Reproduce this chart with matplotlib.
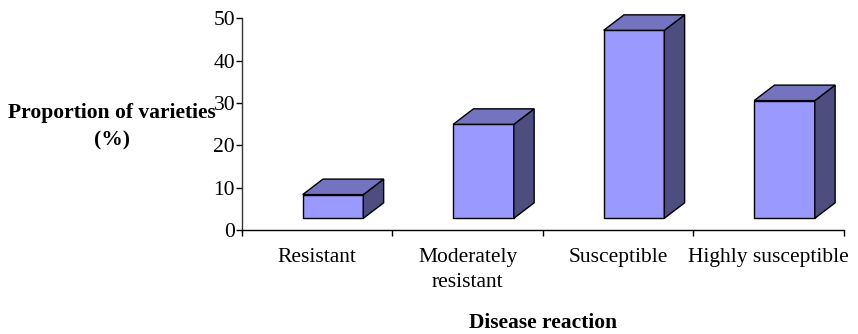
import matplotlib.pyplot as plt
from matplotlib.patches import Polygon
import numpy as np

#--------------- data -----------------#
categories = ['Resistant', 'Moderately\nresistant', 'Susceptible', 'Highly susceptible']
values = [5.6, 22.2, 44.4, 27.8]   # % of varieties
yticks = [0, 10, 20, 30, 40, 50]

#--------------- style -----------------#
plt.rcParams['font.family'] = ['Liberation Serif', 'DejaVu Serif']
front_col = '#9999FF'
top_col = '#7373BF'
side_col = '#4D4D80'
fs = 15.5

# fake 3D geometry (data units)
base = 2.76     # front face sits a bit above the floor
shift = 0.105   # front face offset from category centre
width = 0.403
dx = 0.135      # depth in x
dy = 3.66       # depth in y

fig = plt.figure(figsize=(8.58, 3.34), dpi=100)
ax = fig.add_axes([0.282, 0.3114, 0.7016, 0.6338])

x = np.arange(len(categories))
xl = x + shift - width / 2
xr = x + shift + width / 2
tops = base + np.array(values)

ax.bar(x + shift, values, width=width, bottom=base, color=front_col,
       edgecolor='black', linewidth=1, zorder=3)
for i in range(len(x)):
    top = Polygon([(xl[i], tops[i]), (xr[i], tops[i]), (xr[i] + dx, tops[i] + dy),
                   (xl[i] + dx, tops[i] + dy)], closed=True,
                  facecolor=top_col, edgecolor='black', linewidth=1, zorder=3,
                  clip_on=False)
    side = Polygon([(xr[i], base), (xr[i] + dx, base + dy), (xr[i] + dx, tops[i] + dy),
                    (xr[i], tops[i])], closed=True,
                   facecolor=side_col, edgecolor='black', linewidth=1, zorder=3,
                   clip_on=False)
    ax.add_patch(side)
    ax.add_patch(top)

ax.set_xlim(-0.5, len(categories) - 0.5)
ax.set_ylim(0, 50)
ax.set_yticks(yticks)
ax.tick_params(axis='y', direction='out', length=4, width=1, labelsize=fs, pad=1)

# boundaries as major ticks, labels at centres as minor ticks
ax.set_xticks(np.arange(-0.5, len(categories), 1.0))
ax.set_xticklabels([])
ax.set_xticks(x, minor=True)
ax.set_xticklabels(categories, minor=True, fontsize=fs, linespacing=1.4)
ax.tick_params(axis='x', which='major', direction='out', length=4, width=1)
ax.tick_params(axis='x', which='minor', length=0, pad=13)

for s in ['top', 'right']:
    ax.spines[s].set_visible(False)
for s in ['left', 'bottom']:
    ax.spines[s].set_linewidth(1)
ax.spines['left'].set_color('#333333')

ax.set_ylabel('Proportion of varieties\n(%)', rotation=0, fontsize=fs, fontweight='bold',
              ha='center', va='center', multialignment='center', linespacing=1.5)
ax.yaxis.set_label_coords(-0.216, 0.486)
ax.set_xlabel('Disease reaction', fontsize=fs, fontweight='bold', va='center')
ax.xaxis.set_label_coords(0.5, -0.44)

plt.savefig('out.png', dpi=100)
